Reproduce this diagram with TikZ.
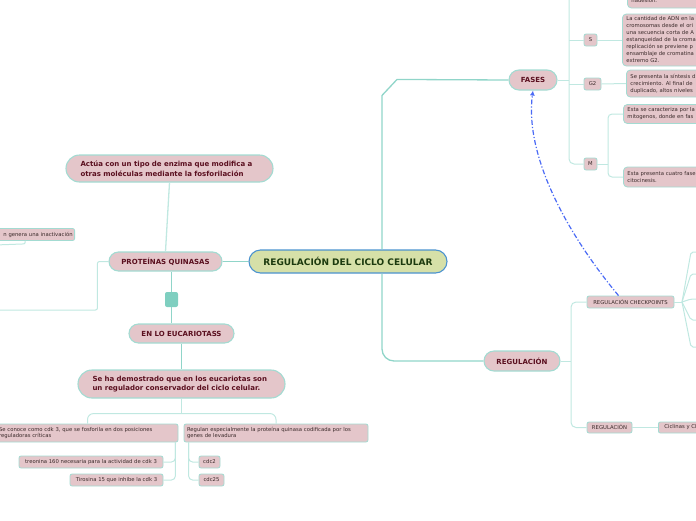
\documentclass[tikz,border=0pt]{standalone}
\usepackage{fontspec}
\setmainfont{DejaVu Sans}
\usetikzlibrary{arrows.meta,calc}
\definecolor{pinkf}{HTML}{E4C6CA}
\definecolor{tealb}{HTML}{A3DBD2}
\definecolor{tealm}{HTML}{90D5C9}
\definecolor{teall}{HTML}{C0E8E1}
\definecolor{darkred}{HTML}{5A0F1F}
\definecolor{greenf}{HTML}{D6E0A8}
\definecolor{blueb}{HTML}{4C93CF}
\definecolor{darkgreen}{HTML}{1C3A0E}
\definecolor{arrowblue}{HTML}{4A6AF5}
\definecolor{sqfill}{HTML}{7FCFC0}
\definecolor{smalltxt}{HTML}{3A2A2A}
\begin{document}
\begin{tikzpicture}[x=1pt,y=-1pt,
  pill/.style={draw=tealb,line width=1.1pt,fill=pinkf,text=darkred,inner sep=0pt,
    font=\bfseries\fontsize{7}{8}\selectfont},
  bigbox/.style={draw=tealb,line width=1.1pt,fill=pinkf,text=darkred,inner sep=0pt,
    rounded corners=12pt,align=left,font=\bfseries\fontsize{7}{9.5}\selectfont},
  small/.style={draw=tealb,line width=0.8pt,fill=pinkf,text=smalltxt,inner sep=0pt,
    rounded corners=2pt,align=left,font=\fontsize{5.3}{6.4}\selectfont},
  rbox/.style={small,rounded corners=4pt,anchor=west,minimum width=120pt,text width=112pt,
    font=\fontsize{5.3}{7}\selectfont},
  mainline/.style={draw=tealm,line width=1.3pt},
  subline/.style={draw=teall,line width=1pt,rounded corners=4pt},
]
\useasboundingbox (0,0) rectangle (696,520);

% central
\node[draw=blueb,line width=1.1pt,fill=greenf,text=darkgreen,rounded corners=11.5pt,
  minimum width=198pt,minimum height=23pt,inner sep=0pt,
  font=\bfseries\fontsize{9}{10}\selectfont] (ctr) at (348,261.5) {REGULACIÓN DEL CICLO CELULAR};

% left side
\node[pill,rounded corners=9.5pt,minimum width=113pt,minimum height=19pt] (prot) at (165.5,261.5) {PROTEÍNAS QUINASAS};
\node[bigbox,minimum width=207pt,minimum height=27pt,rounded corners=13.5pt,text width=178pt] (actua) at (169.5,168.5)
  {Actúa con un tipo de enzima que modifica a\\otras moléculas mediante la fosforilación};
\node[small,minimum width=90pt,minimum height=12pt,anchor=east,text width=86pt,align=right,inner xsep=2pt] (inact) at (75,234.5) {n genera una inactivación};
\node[fill=sqfill,rounded corners=2pt,minimum width=13pt,minimum height=15pt,inner sep=0pt] (sq) at (171.5,299.5) {};
\node[pill,rounded corners=9.5pt,minimum width=105pt,minimum height=19pt] (eucar) at (181.5,333.5) {EN LO EUCARIOTASS};
\node[bigbox,minimum width=207pt,minimum height=28pt,rounded corners=14pt,text width=178pt] (demo) at (181.5,384)
  {Se ha demostrado que en los eucariotas son\\un regulador conservador del ciclo celular.};
\node[small,minimum width=181pt,minimum height=18pt,text width=177pt] (cdk3) at (87.5,433)
  {Se conoce como cdk 3, que se fosforila en dos posiciones\\reguladoras críticas};
\node[small,minimum width=184pt,minimum height=18pt,text width=178pt] (regulan) at (276,433)
  {Regulan especialmente la proteína quinasa codificada por los\\genes de levadura};
\node[small,minimum width=144pt,minimum height=12pt,align=center] (treo) at (91,462) {treonina 160 necesaria para la actividad de cdk 3};
\node[small,minimum width=93pt,minimum height=12pt,align=center] (tiro) at (116.5,480) {Tirosina 15 que inhibe la cdk 3};
\node[small,minimum width=21pt,minimum height=12pt,align=center] (cdc2) at (209.5,462) {cdc2};
\node[small,minimum width=25pt,minimum height=12pt,align=center] (cdc25) at (211.5,480) {cdc25};

% right side
\node[pill,rounded corners=10pt,minimum width=48pt,minimum height=20pt] (fases) at (533,80) {FASES};
\node[pill,rounded corners=10pt,minimum width=76pt,minimum height=20pt] (reg) at (522,361) {REGULACIÓN};
\node[small,minimum width=13pt,minimum height=12pt,align=center] (S) at (590.5,40) {S};
\node[small,minimum width=17pt,minimum height=12pt,align=center] (G2) at (592.5,84) {G2};
\node[small,minimum width=13pt,minimum height=12pt,align=center] (M) at (590.5,164) {M};
\node[rbox,minimum height=14pt] (hades) at (627,1) {hadesion.};
\node[rbox,minimum height=52pt] (sbig) at (622,40)
  {La cantidad de ADN en la\\cromosomas desde el ori\\una secuencia corta de A\\estanqueidad de la croma\\replicación se previene p\\ensamblaje de cromatina\\extremo G2.};
\node[rbox,minimum height=27pt] (g2big) at (626,83.5)
  {Se presenta la síntesis d\\crecimiento. Al final de\\duplicado, altos niveles};
\node[rbox,minimum height=19pt] (m1) at (623,114)
  {Esta se caracteriza por la\\mitogenos, donde en fas};
\node[rbox,minimum height=20pt] (m2) at (623,177)
  {Esta presenta cuatro fase\\citocinesis.};
\node[small,minimum width=87pt,minimum height=12pt,align=center] (chk) at (630.5,302) {REGULACIÓN CHECKPOINTS};
\node[small,minimum width=45pt,minimum height=11pt,align=center] (reg2) at (609.5,427.5) {REGULACIÓN};
\node[small,anchor=west,minimum width=60pt,minimum height=11pt,text width=54pt] (cicl) at (658,427.5) {\hspace{3pt}Ciclinas y CDK};

% coordinates
\coordinate (ctrT) at ($(ctr.north)+(34,0)$);
\coordinate (ctrB) at ($(ctr.south)+(34,0)$);
\coordinate (bj) at ($(demo.south)+(0,15)$);
\coordinate (cdkb) at ($(cdk3.south east)+(-3,0)$);
\coordinate (regb) at ($(regulan.south west)+(5,0)$);
\coordinate (inb) at ($(inact.south east)+(-50,0)$);
\coordinate (inend) at (-5,245);
\coordinate (plend) at (-5,310);
\coordinate (fv) at (569,80);
\coordinate (ftop) at (569,-5);
\coordinate (mv) at (608,164);
\coordinate (rv) at (571,361);
\coordinate (cj) at (682,302);
\coordinate (e1) at (700,252);
\coordinate (e2) at (700,274);
\coordinate (e3) at (700,299);
\coordinate (e4) at (700,320);
\coordinate (e5) at (700,347);

% connectors left
\draw[mainline] (ctr.west) -- (prot.east);
\draw[mainline,draw=teall] (actua.south) -- (prot.north);
\draw[mainline] (sq.north) -- (sq.north |- prot.south);
\draw[mainline] (sq.south) -- (sq.south |- eucar.north);
\draw[mainline] (eucar.south) -- (demo.north);
\draw[subline] (demo.south) -- (bj);
\draw[subline,rounded corners=6pt] (cdk3.north) |- (bj) -| (regulan.north);
\draw[subline] (cdkb) |- (treo.east);
\draw[subline] (cdkb) |- (tiro.east);
\draw[subline] (regb) |- (cdc2.west);
\draw[subline] (regb) |- (cdc25.west);
\draw[subline,rounded corners=1pt] (inb) -- ++(0,3) -- (inend);
\draw[subline,rounded corners=2pt] (prot.west) -- ++(-11,0) |- (plend);

% connectors right
\draw[mainline] (ctrT) -- ++(0,-154) -- ++(15,-16) -- (fases.west);
\draw[mainline,rounded corners=12pt] (ctrB) |- (reg.west);
\draw[subline] (fases.east) -- (fv);
\draw[subline,rounded corners=5pt] (ftop) |- (M.west);
\draw[subline] (fv |- S.west) -- (S.west);
\draw[subline] (fv |- G2.west) -- (G2.west);
\draw[subline] (S.east) -- (sbig.west);
\draw[subline] (G2.east) -- (g2big.west);
\draw[subline] (M.east) -- (mv);
\draw[subline] (mv) |- (m1.west);
\draw[subline] (mv) |- (m2.west);
\draw[subline] (reg.east) -- (rv);
\draw[subline,rounded corners=5pt] (chk.west) -| (rv) |- (reg2.west);
\draw[subline] (reg2.east) -- (cicl.west);
\draw[subline,rounded corners=0pt] (chk.east) -- (cj);
\foreach \e in {e1,e2,e3,e4,e5}{
  \draw[subline,rounded corners=2pt] (cj) -- ($(\e)+(-9,0)$) -- (\e);
}

% blue dashed arrow
\draw[draw=arrowblue,line width=1.2pt,dash pattern=on 5pt off 2pt on 1.2pt off 2pt,
  -{Latex[length=5pt,width=5pt]}]
  ($(chk.north)+(-12,0)$) .. controls (560,225) and (525,150) .. (fases.south);
\end{tikzpicture}
\end{document}
